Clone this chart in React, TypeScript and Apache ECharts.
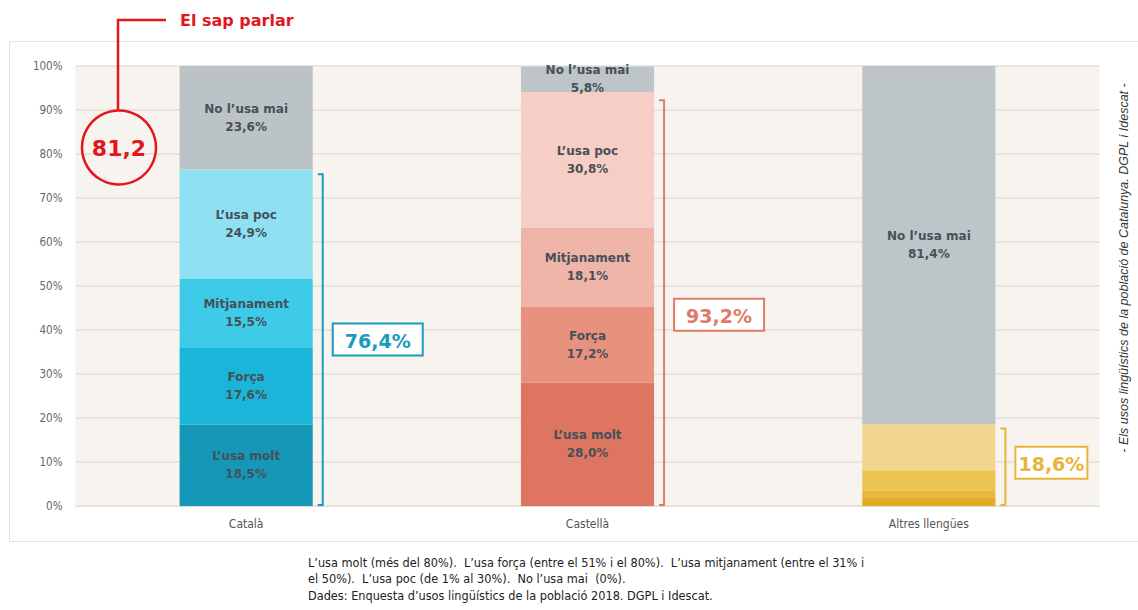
import React, { useEffect, useRef } from "react";
import * as echarts from "echarts";

const categories = ["Català", "Castellà", "Altres llengües"];
const segmentNames = ["L’usa molt", "Força", "Mitjanament", "L’usa poc", "No l’usa mai"];
const usaMolt = [18.5, 28.0, 2.0];
const usaForca = [17.6, 17.2, 1.6];
const usaMitjanament = [15.5, 18.1, 4.5];
const usaPoc = [24.9, 30.8, 10.5];
const noUsaMai = [23.6, 5.8, 81.4];
const usageTotals = [76.4, 93.2, 18.6];
const sapParlar = "81,2";
const labelledSegments = [
  [true, true, true, true, true],
  [true, true, true, true, true],
  [false, false, false, false, true],
];
const palettes = [
  ["#1598b8", "#1bb5d9", "#3ecbe8", "#8fe0f3", "#bcc3c6"],
  ["#dd7560", "#e7917e", "#efb5a8", "#f6cec6", "#bdc5c8"],
  ["#e3ac26", "#e8b93c", "#edc352", "#f2d68d", "#bdc5c8"],
];
const accentColors = ["#1a9bbd", "#e07b68", "#e8b53a"];
const footnote = [
  "L’usa molt (més del 80%).  L’usa força (entre el 51% i el 80%).  L’usa mitjanament (entre el 31% i",
  "el 50%).  L’usa poc (de 1% al 30%).  No l’usa mai  (0%).",
  "Dades: Enquesta d’usos lingüístics de la població 2018. DGPL i Idescat.",
];
const sideNote = "- Els usos lingüístics de la població de Catalunya. DGPL i Idescat -";

const fmt = (v: number) => v.toFixed(1).replace(".", ",");
const NARROW = "'Liberation Sans Narrow', 'DejaVu Sans Condensed', sans-serif";
const BASE = "'DejaVu Sans', sans-serif";

export default function App() {
  const ref = useRef<HTMLDivElement>(null);
  useEffect(() => {
    document.body.style.margin = "0";
    const chart = echarts.init(ref.current!, null, { renderer: "svg" });
    const seriesData = [usaMolt, usaForca, usaMitjanament, usaPoc, noUsaMai];
    const series = seriesData.map((arr, si) => ({
      type: "bar",
      name: segmentNames[si],
      stack: "total",
      barWidth: "39%",
      data: arr.map((v, ci) => ({
        value: v,
        itemStyle: { color: palettes[ci][si] },
        label: {
          show: labelledSegments[ci][si],
          position: "inside",
          formatter: () => `${segmentNames[si]}\n${fmt(v)}%`,
          color: "#465058",
          fontFamily: BASE,
          fontWeight: "bold",
          fontSize: 12,
          lineHeight: 18,
        },
      })),
    }));
    chart.setOption({
      animation: false,
      grid: {
        left: 75.5,
        right: 38.5,
        top: 66,
        bottom: 104,
        show: true,
        backgroundColor: "#f7f3ee",
        borderWidth: 0,
      },
      xAxis: {
        type: "category",
        data: categories,
        axisLine: { show: true, lineStyle: { color: "#e2ddd7" } },
        axisTick: { show: false },
        axisLabel: { color: "#555", fontFamily: NARROW, fontSize: 12, margin: 12 },
      },
      yAxis: {
        type: "value",
        min: 0,
        max: 100,
        interval: 10,
        axisLine: { show: false },
        axisTick: { show: false },
        axisLabel: { formatter: "{value}%", color: "#666", fontFamily: NARROW, fontSize: 11.5, margin: 13 },
        splitLine: { lineStyle: { color: "#e4dfd9", width: 1.5 } },
      },
      series,
    });

    const px = (c: number, v: number) => chart.convertToPixel({ gridIndex: 0 }, [c, v]) as number[];
    const band = px(1, 0)[0] - px(0, 0)[0];
    const half = (band * 0.39) / 2;
    const graphics: any[] = [];
    graphics.push({
      type: "rect",
      shape: { x: 9.5, y: 41.5, width: 1140, height: 500 },
      style: { fill: "none", stroke: "#e3e3e3", lineWidth: 1 },
      z: -10,
    });
    const boxW = [90, 90, 72];
    const boxShift = [0, 12, -4];
    usageTotals.forEach((t, ci) => {
      const xc = px(ci, 0)[0];
      const bx = xc + half + 10;
      const yTop = px(ci, t - 1)[1];
      const yBot = px(ci, 0)[1] - 1;
      const col = accentColors[ci];
      graphics.push({
        type: "polyline",
        shape: { points: [[bx - 5, yTop], [bx, yTop], [bx, yBot], [bx - 5, yBot]] },
        style: { stroke: col, lineWidth: 2, fill: "none" },
        z: 10,
      });
      const cy = (yTop + yBot) / 2 + boxShift[ci];
      const left = bx + 10;
      graphics.push({
        type: "rect",
        shape: { x: left, y: cy - 16, width: boxW[ci], height: 32 },
        style: { fill: "#ffffff", stroke: col, lineWidth: 2 },
        z: 10,
      });
      graphics.push({
        type: "text",
        x: left + boxW[ci] / 2,
        y: cy + 1,
        style: {
          text: `${fmt(t)}%`,
          fill: col,
          font: `bold 19px ${BASE}`,
          align: "center",
          verticalAlign: "middle",
        },
        z: 11,
      });
    });
    const red = "#e3161e";
    graphics.push({
      type: "polyline",
      shape: { points: [[166, 20], [118, 20], [118, 110]] },
      style: { stroke: red, lineWidth: 2.5, fill: "none" },
      z: 12,
    });
    graphics.push({
      type: "circle",
      shape: { cx: 119, cy: 147.5, r: 37 },
      style: { stroke: red, lineWidth: 2.5, fill: "none" },
      z: 12,
    });
    graphics.push({
      type: "text",
      x: 119,
      y: 148,
      style: { text: sapParlar, fill: red, font: `bold 22px ${BASE}`, align: "center", verticalAlign: "middle" },
      z: 12,
    });
    graphics.push({
      type: "text",
      x: 180,
      y: 20,
      style: { text: "El sap parlar", fill: red, font: `bold 16px ${BASE}`, align: "left", verticalAlign: "middle" },
      z: 12,
    });
    graphics.push({
      type: "text",
      x: 1124,
      y: 268,
      rotation: Math.PI / 2,
      style: {
        text: sideNote,
        fill: "#333",
        font: `italic 12.5px 'Liberation Sans', sans-serif`,
        align: "center",
        verticalAlign: "middle",
      },
      z: 12,
    });
    footnote.forEach((line, i) => {
      graphics.push({
        type: "text",
        x: 308,
        y: 562 + i * 16.5,
        style: {
          text: line,
          fill: "#222",
          font: `12.6px ${NARROW}`,
          align: "left",
          verticalAlign: "middle",
        },
        z: 12,
      });
    });
    chart.setOption({ graphic: graphics });
    return () => chart.dispose();
  }, []);
  return <div ref={ref} style={{ width: 1138, height: 610 }} />;
}
